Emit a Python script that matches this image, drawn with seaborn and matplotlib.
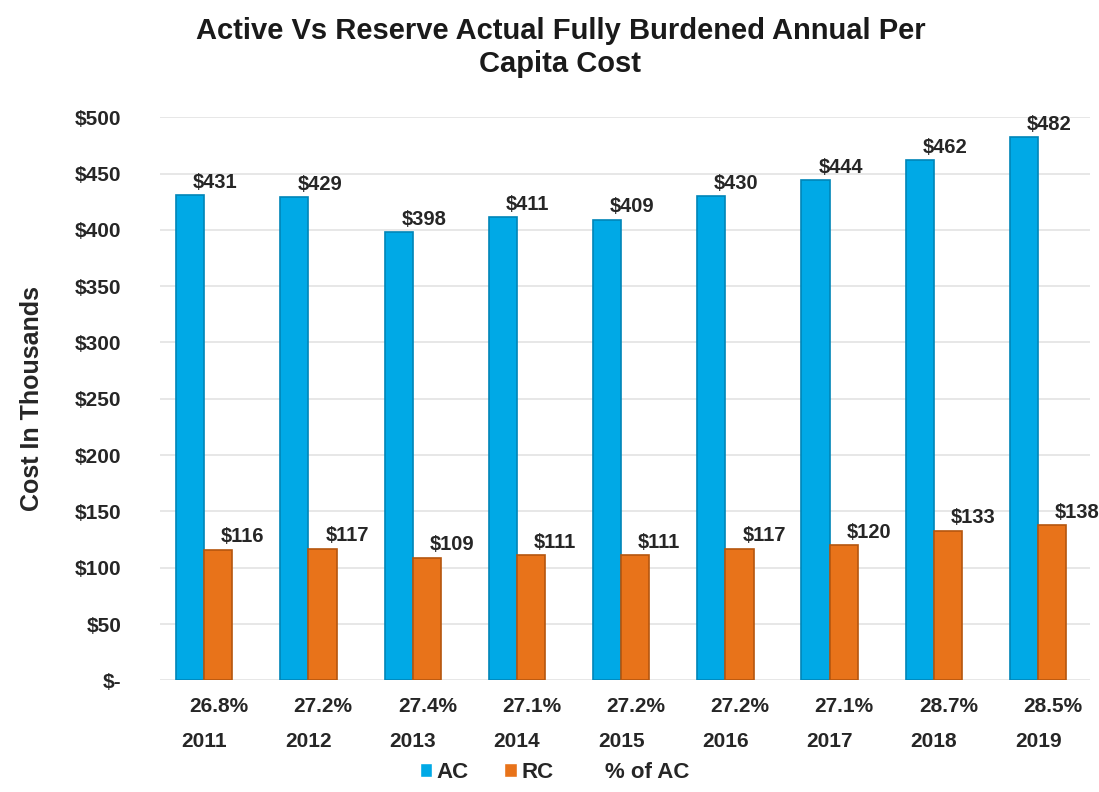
import numpy as np
import pandas as pd
import matplotlib
matplotlib.use("Agg")
import matplotlib.pyplot as plt
from matplotlib.patches import Patch
import seaborn as sns

# Chart data
years = ["2011", "2012", "2013", "2014", "2015", "2016", "2017", "2018", "2019"]
ac_cost = [431, 429, 398, 411, 409, 430, 444, 462, 482]
rc_cost = [116, 117, 109, 111, 111, 117, 120, 133, 138]
pct_of_ac = ["26.8%", "27.2%", "27.4%", "27.1%", "27.2%", "27.2%", "27.1%", "28.7%", "28.5%"]
y_ticks = [0, 50, 100, 150, 200, 250, 300, 350, 400, 450, 500]

AC_COLOR = "#00A9E6"
RC_COLOR = "#E8731A"
AC_EDGE = "#0085B8"
RC_EDGE = "#B5560E"
TXT = "#262626"

sns.set_theme(style="white")
plt.rcParams["font.family"] = ["Liberation Sans", "DejaVu Sans"]
plt.rcParams["font.weight"] = "bold"

df = pd.DataFrame({
    "year": years * 2,
    "cost": ac_cost + rc_cost,
    "series": ["AC"] * len(years) + ["RC"] * len(years),
})

fig = plt.figure(figsize=(10.99, 7.92), dpi=100)
ax = fig.add_axes([0.146, 0.141, 0.846, 0.711])

sns.barplot(data=df, x="year", y="cost", hue="series", order=years,
            palette={"AC": AC_COLOR, "RC": RC_COLOR}, width=0.54, gap=0,
            saturation=1, legend=False, ax=ax, zorder=3)

edges = [AC_EDGE, RC_EDGE]
for cont, ec in zip(ax.containers, edges):
    for bar in cont:
        bar.set_edgecolor(ec)
        bar.set_linewidth(1.2)

# value labels
for cont in ax.containers:
    for bar in cont:
        v = bar.get_height()
        ax.text(bar.get_x() + bar.get_width() * 0.6, v + 3, f"${v:.0f}",
                ha="left", va="bottom", fontsize=14.5, fontweight="bold",
                color=TXT, zorder=4)

ax.set_ylim(0, 500)
ax.set_xlim(-0.42, 8.5)
ax.set_yticks(y_ticks)
ax.set_yticklabels(["$-" if t == 0 else f"${t}" for t in y_ticks],
                   fontsize=15, fontweight="bold", color=TXT)
ax.set_xticks(range(len(years)))
ax.set_xticklabels(years, fontsize=15, fontweight="bold", color=TXT)
ax.tick_params(axis="x", pad=37, length=0)
ax.tick_params(axis="y", pad=28, length=0)
ax.grid(axis="y", color="#E3E3E3", linewidth=1.2, zorder=0)
for s in ax.spines.values():
    s.set_visible(False)

# percent row
for i, p in enumerate(pct_of_ac):
    ax.text(i + 0.14, -0.03, p, transform=ax.get_xaxis_transform(),
            ha="center", va="top", fontsize=15, fontweight="bold", color=TXT)

ax.set_xlabel("")
ax.set_ylabel("Cost In Thousands", fontsize=18, fontweight="bold",
              color=TXT, labelpad=22)

fig.suptitle("Active Vs Reserve Actual Fully Burdened Annual Per\nCapita Cost",
             x=0.51, y=0.978, fontsize=21, fontweight="bold", color="#1A1A1A",
             linespacing=1.2)

handles = [Patch(facecolor=AC_COLOR, label="AC"),
           Patch(facecolor=RC_COLOR, label="RC"),
           Patch(facecolor="none", edgecolor="none", label="% of AC")]
fig.legend(handles=handles, loc="center", bbox_to_anchor=(0.505, 0.025),
           ncol=3, frameon=False, handlelength=0.55,
           handleheight=0.55, handletextpad=0.2, columnspacing=1.6,
           prop={"weight": "bold", "size": 16})

fig.savefig("out.png", dpi=100)
